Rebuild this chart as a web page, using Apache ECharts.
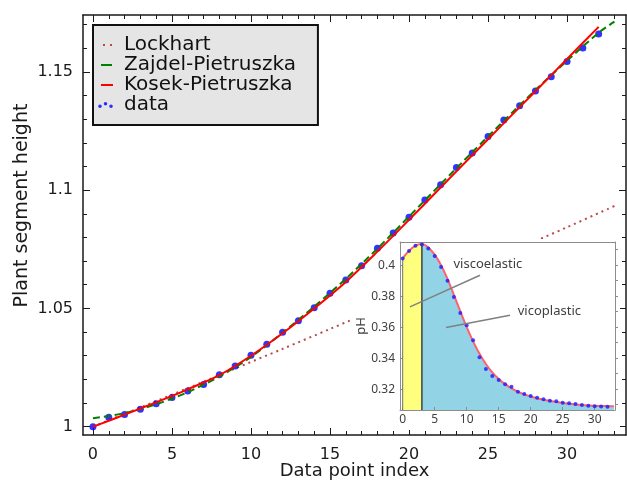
<!DOCTYPE html>
<html>
<head>
<meta charset="utf-8">
<title>Plant segment height</title>
<script src="https://cdn.jsdelivr.net/npm/echarts@6/dist/echarts.min.js"></script>
<style>
	html, body { margin: 0; padding: 0; background: #fff; }
	#main { width: 627px; height: 480px; }
</style>
</head>
<body>
<div id="main"></div>
<script>
// 主图：测量点（按序号）
const heightData = [1.0000, 1.0040, 1.0052, 1.0074, 1.0097, 1.0124, 1.0151, 1.0178, 1.0220, 1.0257,
	1.0302, 1.0348, 1.0399, 1.0448, 1.0503, 1.0564, 1.0620, 1.0680, 1.0754, 1.0819,
	1.0885, 1.0958, 1.1023, 1.1095, 1.1157, 1.1226, 1.1296, 1.1357, 1.1419, 1.1479,
	1.1544, 1.1601, 1.1660];
// 拟合曲线（从图上读取的取样点）
const lockhartX = [0, 3, 6, 9, 12, 15, 18, 21, 24, 27, 30, 33];
const lockhartY = [1.0000, 1.0081, 1.0163, 1.0246, 1.0329, 1.0413, 1.0498, 1.0584, 1.0669, 1.0756, 1.0843, 1.0933];
const zajdelX = [0, 1, 2, 3, 4, 5, 6, 8, 10, 12, 14, 16, 18, 20, 22, 24, 26, 28, 30, 32, 33];
const zajdelY = [1.0036, 1.0045, 1.0058, 1.0075, 1.0095, 1.0119, 1.0146, 1.0212, 1.0295, 1.0397, 1.0508,
	1.0625, 1.0753, 1.0888, 1.1025, 1.1160, 1.1293, 1.1423, 1.1547, 1.1665, 1.1712];
const kosekX = [0, 1, 2, 3, 4, 5, 6, 8, 10, 12, 14, 16, 18, 20, 22, 24, 26, 28, 30, 32];
const kosekY = [1.0000, 1.0025, 1.0051, 1.0077, 1.0103, 1.0130, 1.0158, 1.0218, 1.0300, 1.0395, 1.0500,
	1.0612, 1.0740, 1.0874, 1.1011, 1.1147, 1.1283, 1.1418, 1.1554, 1.1690];

// 小图：pH
const phData = [0.4043, 0.4092, 0.4125, 0.4134, 0.4108, 0.4060, 0.3989, 0.3899, 0.3795, 0.3692,
	0.3613, 0.3516, 0.3405, 0.3329, 0.3284, 0.3258, 0.3231, 0.3215, 0.3183, 0.3168,
	0.3155, 0.3144, 0.3135, 0.3125, 0.3121, 0.3112, 0.3108, 0.3103, 0.3097, 0.3092,
	0.3090, 0.3088, 0.3086];
const phCurveX = [0, 1, 2, 3, 4, 5, 6, 7, 8, 9, 10, 11, 12, 13, 14, 15, 16, 17, 18, 19, 20, 22, 24, 26, 28, 30, 32, 33];
const phCurveY = [0.4045, 0.4093, 0.4127, 0.4137, 0.4115, 0.4068, 0.4000, 0.3912, 0.3808, 0.3702,
	0.3600, 0.3508, 0.3428, 0.3362, 0.3308, 0.3265, 0.3232, 0.3205, 0.3183, 0.3166,
	0.3152, 0.3131, 0.3117, 0.3106, 0.3098, 0.3093, 0.3090, 0.3089];
const elasticEnd = 3; // 粘弹性区间终点

// 刻度
const xMajor = [0, 5, 10, 15, 20, 25, 30];
const xMinor = [1, 2, 3, 4, 6, 7, 8, 9, 11, 12, 13, 14, 16, 17, 18, 19, 21, 22, 23, 24, 26, 27, 28, 29, 31, 32, 33];
const yMajor = [1, 1.05, 1.1, 1.15];
const yMinor = [1.01, 1.02, 1.03, 1.04, 1.06, 1.07, 1.08, 1.09, 1.11, 1.12, 1.13, 1.14, 1.16, 1.17];
const insetXMajor = [0, 5, 10, 15, 20, 25, 30];
const insetYMajor = [0.32, 0.34, 0.36, 0.38, 0.4];
const insetYMinor = [0.31, 0.32, 0.33, 0.34, 0.35, 0.36, 0.37, 0.38, 0.39, 0.4, 0.41];

const X_MIN = -0.63, X_MAX = 33.73, Y_MIN = 0.9965, Y_MAX = 1.174;
const IX_MIN = -0.42, IX_MAX = 33.17, IY_MIN = 0.3065, IY_MAX = 0.415;

const font = 'DejaVu Sans';
const ink = '#1a1a1a';
const insetInk = '#404040';
const frameGray = '#8c8c8c';

const pairs = (xs, ys) => xs.map((x, i) => [x, ys[i]]);
const fmt = v => String(+(+v).toFixed(2));

// 主图四周的轴（主刻度/次刻度，里侧）
function frameAxis(pos, ticks, len, showLine, showLabel) {
	return {
		type: 'value',
		gridIndex: 0,
		position: pos,
		min: (pos === 'bottom' || pos === 'top') ? X_MIN : Y_MIN,
		max: (pos === 'bottom' || pos === 'top') ? X_MAX : Y_MAX,
		axisLine: { show: showLine, onZero: false, lineStyle: { color: ink, width: 1.5 } },
		axisTick: { show: true, inside: true, length: len, customValues: ticks, lineStyle: { color: ink, width: 1 } },
		axisLabel: {
			show: showLabel,
			customValues: ticks,
			formatter: fmt,
			margin: (pos === 'bottom') ? 12 : 10,
			fontFamily: font,
			fontSize: 16,
			color: ink,
		},
		splitLine: { show: false },
	};
}

const xAxes = [
	Object.assign(frameAxis('bottom', xMajor, 7, true, true), {
		name: 'Data point index',
		nameLocation: 'middle',
		nameGap: 27,
		nameMoveOverlap: false,
		nameTextStyle: { fontFamily: font, fontSize: 18, color: ink },
	}),
	frameAxis('bottom', xMinor, 4, false, false),
	frameAxis('top', xMajor, 7, true, false),
	frameAxis('top', xMinor, 4, false, false),
	{
		type: 'value', gridIndex: 1, position: 'bottom', min: IX_MIN, max: IX_MAX, z: 6,
		axisLine: { show: true, onZero: false, lineStyle: { color: frameGray, width: 1 } },
		axisTick: { show: true, inside: true, length: 3, customValues: insetXMajor, lineStyle: { color: frameGray } },
		axisLabel: { show: true, customValues: insetXMajor, margin: 4, fontFamily: 'Noto Sans', fontSize: 12, color: insetInk },
		splitLine: { show: false },
	},
	{
		type: 'value', gridIndex: 1, position: 'top', min: IX_MIN, max: IX_MAX, z: 6,
		axisLine: { show: true, onZero: false, lineStyle: { color: frameGray, width: 1 } },
		axisTick: { show: false }, axisLabel: { show: false }, splitLine: { show: false },
	},
];

const yAxes = [
	Object.assign(frameAxis('left', yMajor, 7, true, true), {
		name: 'Plant segment height',
		nameLocation: 'middle',
		nameGap: 51,
		nameMoveOverlap: false,
		nameTextStyle: { fontFamily: font, fontSize: 19, color: ink, padding: [0, 0, 0, 39] },
	}),
	frameAxis('left', yMinor, 4, false, false),
	frameAxis('right', yMajor, 7, true, false),
	frameAxis('right', yMinor, 4, false, false),
	{
		type: 'value', gridIndex: 1, position: 'left', min: IY_MIN, max: IY_MAX, z: 6,
		axisLine: { show: true, onZero: false, lineStyle: { color: frameGray, width: 1 } },
		axisTick: { show: true, inside: true, length: 3, customValues: insetYMajor, lineStyle: { color: frameGray } },
		axisLabel: { show: true, customValues: insetYMajor, formatter: fmt, margin: 5, fontFamily: 'Noto Sans', fontSize: 12, color: insetInk },
		splitLine: { show: false },
		name: 'pH',
		nameLocation: 'middle',
		nameGap: 32,
		nameMoveOverlap: false,
		nameTextStyle: { fontFamily: 'Noto Sans', fontSize: 13, color: insetInk },
	},
	{
		type: 'value', gridIndex: 1, position: 'right', min: IY_MIN, max: IY_MAX, z: 6,
		axisLine: { show: true, onZero: false, lineStyle: { color: frameGray, width: 1 } },
		axisTick: { show: true, inside: false, length: 3, customValues: insetYMinor, lineStyle: { color: frameGray } },
		axisLabel: { show: false }, splitLine: { show: false },
	},
];

// 图例图标（前两个 M 只用来撑开图标框 21x8）
const iconLockhart = 'path://M0 0M21 8M5 3L7 3L7 5L5 5ZM12 3L14 3L14 5L12 5Z';
const iconZajdel = 'path://M0 0M21 8M3 3L14 3L14 5L3 5Z';
const iconKosek = 'path://M0 0M21 8M3 3L15 3L15 5L3 5Z';
const iconData = 'path://M0 0M21 8M0.2 5.2a1.8 1.8 0 1 0 3.6 0a1.8 1.8 0 1 0 -3.6 0ZM5.7 2.8a1.8 1.8 0 1 0 3.6 0a1.8 1.8 0 1 0 -3.6 0ZM11.2 5.2a1.8 1.8 0 1 0 3.6 0a1.8 1.8 0 1 0 -3.6 0Z';

const chart = echarts.init(document.getElementById('main'));

const option = {
	animation: false,
	backgroundColor: '#fff',
	grid: [
		{ left: 83, right: 1, top: 15, bottom: 45, outerBoundsMode: 'none' },
		{ left: 400, right: 12, top: 242, bottom: 70, outerBoundsMode: 'none' },
	],
	legend: {
		orient: 'vertical',
		left: 93,
		top: 25,
		padding: [10, 22, 10, 5],
		itemGap: 0,
		itemWidth: 21,
		itemHeight: 8,
		selectedMode: false,
		backgroundColor: '#e5e5e5',
		borderColor: '#111',
		borderWidth: 2,
		borderRadius: 0,
		textStyle: { fontFamily: font, fontSize: 20, color: '#111', lineHeight: 20 },
		data: [
			{ name: 'Lockhart', icon: iconLockhart },
			{ name: 'Zajdel-Pietruszka', icon: iconZajdel },
			{ name: 'Kosek-Pietruszka', icon: iconKosek },
			{ name: 'data', icon: iconData },
		],
	},
	// 小图的白底，盖住下面的 Lockhart 曲线
	graphic: [
		{ type: 'rect', left: 350, top: 239, shape: { width: 270, height: 191 }, style: { fill: '#fff' }, z: 3, silent: true },
	],
	xAxis: xAxes,
	yAxis: yAxes,
	series: [
		{
			name: 'Lockhart',
			type: 'line',
			color: '#b94a48',
			data: pairs(lockhartX, lockhartY),
			smooth: 0.3,
			showSymbol: false,
			lineStyle: { width: 2, type: [2, 4], color: '#b94a48' },
			z: 2,
		},
		{
			name: 'data',
			type: 'scatter',
			color: '#0000ff',
			data: heightData.map((v, i) => [i, v]),
			symbolSize: 7,
			z: 4,
		},
		{
			name: 'Zajdel-Pietruszka',
			type: 'line',
			color: '#008000',
			data: pairs(zajdelX, zajdelY),
			smooth: 0.3,
			showSymbol: false,
			lineStyle: { width: 2, type: [7, 4], color: '#008000' },
			z: 5,
		},
		{
			name: 'Kosek-Pietruszka',
			type: 'line',
			color: '#ff0000',
			data: pairs(kosekX, kosekY),
			smooth: 0.3,
			showSymbol: false,
			lineStyle: { width: 2, color: '#ff0000' },
			z: 5,
		},
		// 小图
		{
			name: 'vicoplastic-area',
			type: 'line',
			xAxisIndex: 4,
			yAxisIndex: 4,
			data: pairs(phCurveX, phCurveY),
			smooth: 0.3,
			showSymbol: false,
			lineStyle: { width: 0 },
			areaStyle: { color: '#93d3e6', opacity: 1, origin: 'start' },
			z: 6,
		},
		{
			name: 'viscoelastic-area',
			type: 'line',
			xAxisIndex: 4,
			yAxisIndex: 4,
			data: pairs(phCurveX, phCurveY).filter(p => p[0] <= elasticEnd),
			smooth: 0.3,
			showSymbol: false,
			lineStyle: { width: 0 },
			areaStyle: { color: '#ffff7f', opacity: 1, origin: 'start' },
			z: 7,
		},
		{
			name: 'boundary',
			type: 'line',
			xAxisIndex: 4,
			yAxisIndex: 4,
			data: [[elasticEnd, IY_MIN], [elasticEnd, phCurveY[phCurveX.indexOf(elasticEnd)]]],
			showSymbol: false,
			lineStyle: { width: 1.5, color: '#404040' },
			z: 7,
		},
		{
			name: 'boundary0',
			type: 'line',
			xAxisIndex: 4,
			yAxisIndex: 4,
			data: [[0, IY_MIN], [0, phCurveY[0]]],
			showSymbol: false,
			lineStyle: { width: 1, color: '#707070' },
			z: 7,
		},
		{
			name: 'pH fit',
			type: 'line',
			xAxisIndex: 4,
			yAxisIndex: 4,
			data: pairs(phCurveX, phCurveY),
			smooth: 0.3,
			showSymbol: false,
			lineStyle: { width: 2, color: '#ff6070' },
			z: 8,
			markLine: {
				silent: true,
				z: 10,
				symbol: ['none', 'none'],
				label: { show: false },
				lineStyle: { color: '#808080', width: 1.5, type: 'solid' },
				data: [
					[{ coord: [12.08, 0.3935] }, { coord: [1.14, 0.3731] }],
					[{ coord: [16.77, 0.3677] }, { coord: [6.77, 0.3598] }],
				],
			},
			markPoint: {
				silent: true,
				z: 10,
				symbol: 'circle',
				symbolSize: 1,
				itemStyle: { color: 'rgba(0,0,0,0)' },
				label: {
					show: true,
					position: 'right',
					distance: 0,
					formatter: '{b}',
					fontFamily: 'Noto Sans',
					fontSize: 13,
					color: insetInk,
				},
				data: [
					{ name: 'viscoelastic', coord: [7.86, 0.4005] },
					{ name: 'vicoplastic', coord: [17.9, 0.3703] },
				],
			},
		},
		{
			name: 'pH data',
			type: 'scatter',
			xAxisIndex: 4,
			yAxisIndex: 4,
			color: '#1a1aff',
			data: phData.map((v, i) => [i, v]),
			symbolSize: 4,
			z: 9,
		},
	],
};

chart.setOption(option);
</script>
</body>
</html>
